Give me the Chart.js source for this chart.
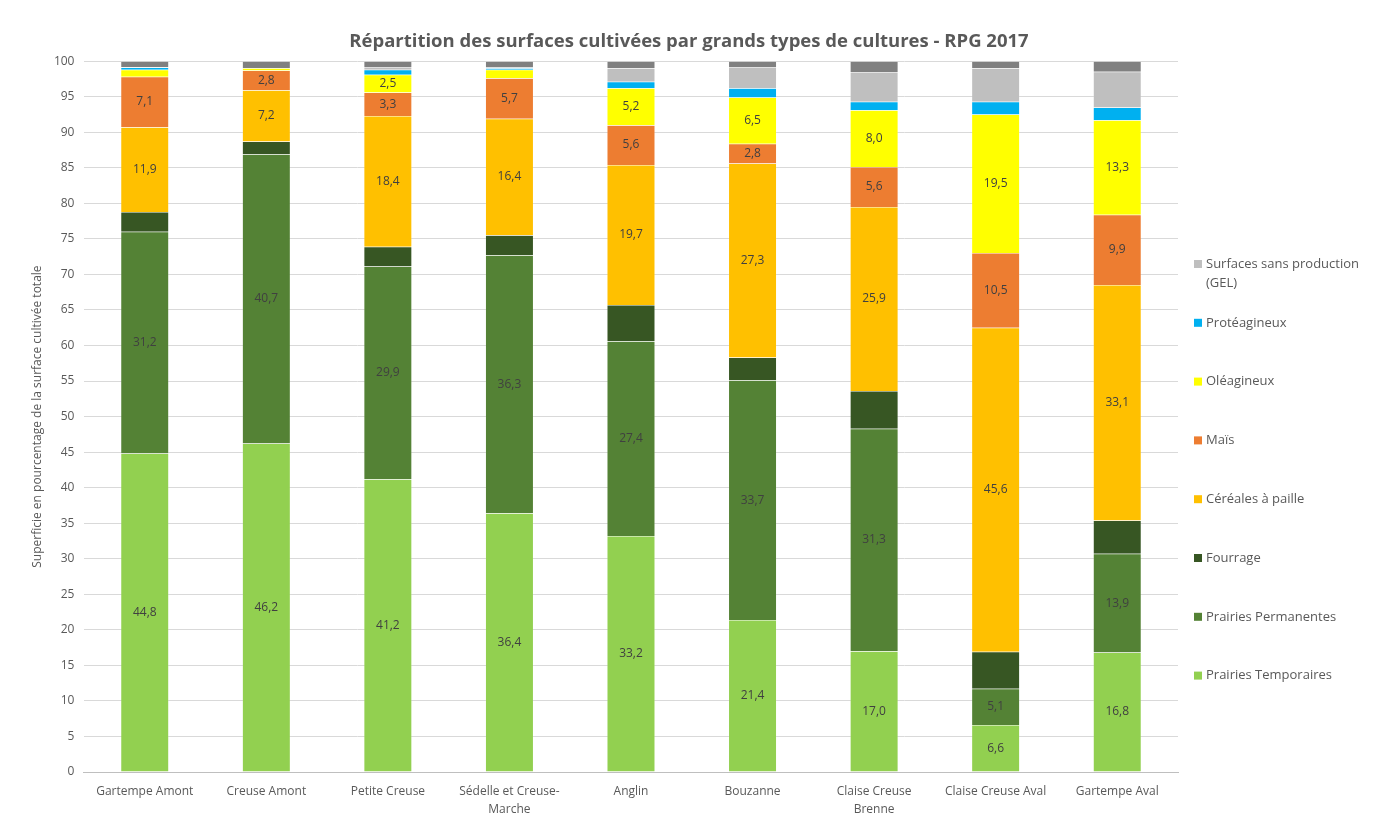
<!DOCTYPE html>
<html lang="fr">
<head>
    <meta charset="UTF-8" />
    <title>Répartition des surfaces cultivées - RPG 2017</title>
    <script src="https://cdn.jsdelivr.net/npm/chart.js"></script>
    <style>
        body { margin: 0; background: #fff; }
        #wrap { width: 1378px; height: 814px; position: relative; }
    </style>
</head>
<body>

<div id="wrap"><canvas id="rpgChart"></canvas></div>

<script>
    // Bassins versants (axe des x)
    const bassins = [
        'Gartempe Amont', 'Creuse Amont', 'Petite Creuse', ['Sédelle et Creuse-', 'Marche'],
        'Anglin', 'Bouzanne', ['Claise Creuse', 'Brenne'], 'Claise Creuse Aval', 'Gartempe Aval'
    ];

    // Part de chaque type de culture, en % de la surface cultivée totale
    const prairiesTemporaires = [44.8, 46.2, 41.2, 36.4, 33.2, 21.4, 17.0, 6.6, 16.8];
    const prairiesPermanentes = [31.2, 40.7, 29.9, 36.3, 27.4, 33.7, 31.3, 5.1, 13.9];
    const fourrage            = [2.8, 1.8, 2.8, 2.8, 5.1, 3.2, 5.3, 5.2, 4.7];
    const cerealesPaille      = [11.9, 7.2, 18.4, 16.4, 19.7, 27.3, 25.9, 45.6, 33.1];
    const mais                = [7.1, 2.8, 3.3, 5.7, 5.6, 2.8, 5.6, 10.5, 9.9];
    const oleagineux          = [1.0, 0.3, 2.5, 1.2, 5.2, 6.5, 8.0, 19.5, 13.3];
    const proteagineux        = [0.3, 0.0, 0.7, 0.2, 0.9, 1.3, 1.2, 1.8, 1.8];
    const gel                 = [0.1, 0.0, 0.4, 0.2, 1.9, 2.9, 4.1, 4.7, 5.0];
    const autres              = [0.8, 1.0, 0.8, 0.8, 1.0, 0.9, 1.6, 1.0, 1.5];

    const yTicks = [0, 5, 10, 15, 20, 25, 30, 35, 40, 45, 50, 55, 60, 65, 70, 75, 80, 85, 90, 95, 100];

    const TXT = '#595959';
    const FONT = '"Open Sans", "Liberation Sans", sans-serif';

    function serie(label, data, color, showLabels, inLegend) {
        return {
            label: label,
            data: data,
            backgroundColor: color,
            borderColor: 'rgba(255,255,255,0.35)',
            borderWidth: 0.5,
            showLabels: showLabels,
            inLegend: inLegend,
            categoryPercentage: 1,
            barPercentage: 0.395
        };
    }

    const datasets = [
        serie('Prairies Temporaires', prairiesTemporaires, '#92D050', true, true),
        serie('Prairies Permanentes', prairiesPermanentes, '#548235', true, true),
        serie('Fourrage', fourrage, '#375623', false, true),
        serie('Céréales à paille', cerealesPaille, '#FFC000', true, true),
        serie('Maïs', mais, '#ED7D31', true, true),
        serie('Oléagineux', oleagineux, '#FFFF00', true, true),
        serie('Protéagineux', proteagineux, '#00B0F0', false, true),
        serie('Surfaces sans production (GEL)', gel, '#BFBFBF', false, true),
        serie('Autres', autres, '#808080', false, false)
    ];

    // titre centré sur toute la largeur (et pas seulement sur la zone du graphe)
    const titreLargePlugin = {
        id: 'titreLarge',
        afterLayout(chart) {
            const t = chart.titleBlock;
            if (!t) return;
            t.left = 0;
            t.right = chart.width;
            t.width = chart.width;
        }
    };

    // étiquettes de valeur au centre des segments
    const valeursPlugin = {
        id: 'valeurs',
        afterDatasetsDraw(chart) {
            const ctx = chart.ctx;
            ctx.save();
            ctx.font = '12px ' + FONT;
            ctx.fillStyle = '#404040';
            ctx.textAlign = 'center';
            ctx.textBaseline = 'middle';
            chart.data.datasets.forEach((ds, i) => {
                if (!ds.showLabels) return;
                chart.getDatasetMeta(i).data.forEach((bar, j) => {
                    const v = ds.data[j];
                    if (v < 2) return;
                    ctx.fillText(v.toFixed(1).replace('.', ','), bar.x, (bar.y + bar.base) / 2);
                });
            });
            ctx.restore();
        }
    };

    // légende verticale à droite, ordre inversé
    const legendePlugin = {
        id: 'legende',
        afterDraw(chart) {
            const ctx = chart.ctx;
            const x0 = chart.chartArea.right + 16;
            const step = 58.8;
            let y = 264;
            ctx.save();
            ctx.font = '13px ' + FONT;
            ctx.textBaseline = 'middle';
            const items = chart.data.datasets.filter(d => d.inLegend).slice().reverse();
            items.forEach(ds => {
                ctx.fillStyle = ds.backgroundColor;
                ctx.fillRect(x0, y - 4, 8, 8);
                ctx.fillStyle = TXT;
                // retour à la ligne si le libellé est trop long
                const words = ds.label.split(' ');
                const lines = [];
                let line = '';
                words.forEach(w => {
                    const t = line ? line + ' ' + w : w;
                    if (ctx.measureText(t).width > 165 && line) { lines.push(line); line = w; }
                    else line = t;
                });
                lines.push(line);
                lines.forEach((l, k) => ctx.fillText(l, x0 + 12, y + k * 19));
                y += step;
            });
            ctx.restore();
        }
    };

    const ctx = document.getElementById('rpgChart').getContext('2d');
    new Chart(ctx, {
        type: 'bar',
        data: { labels: bassins, datasets: datasets },
        plugins: [titreLargePlugin, valeursPlugin, legendePlugin],
        options: {
            responsive: true,
            maintainAspectRatio: false,
            animation: false,
            layout: { padding: { left: 30, right: 200, top: 8, bottom: -8 } },
            plugins: {
                legend: { display: false },
                tooltip: { enabled: false },
                title: {
                    display: true,
                    text: 'Répartition des surfaces cultivées par grands types de cultures - RPG 2017',
                    color: TXT,
                    font: { family: FONT, size: 18.5, weight: 'bold' },
                    padding: { top: 23, bottom: 8 }
                }
            },
            scales: {
                x: {
                    stacked: true,
                    grid: { display: false },
                    border: { color: '#BFBFBF' },
                    ticks: {
                        color: TXT,
                        font: { family: FONT, size: 12, lineHeight: 1.5 },
                        maxRotation: 0,
                        autoSkip: false,
                        padding: 3
                    }
                },
                y: {
                    stacked: true,
                    min: 0,
                    max: 100,
                    afterBuildTicks(axis) { axis.ticks = yTicks.map(v => ({ value: v })); },
                    grid: { color: '#D9D9D9', drawTicks: false },
                    border: { display: false },
                    ticks: {
                        color: TXT,
                        font: { family: FONT, size: 12 },
                        padding: 9.5
                    },
                    title: {
                        display: true,
                        text: 'Superficie en pourcentage de la surface cultivée totale',
                        color: TXT,
                        font: { family: FONT, size: 12 },
                        padding: { top: 0, bottom: 0 }
                    }
                }
            }
        }
    });
</script>

</body>
</html>
